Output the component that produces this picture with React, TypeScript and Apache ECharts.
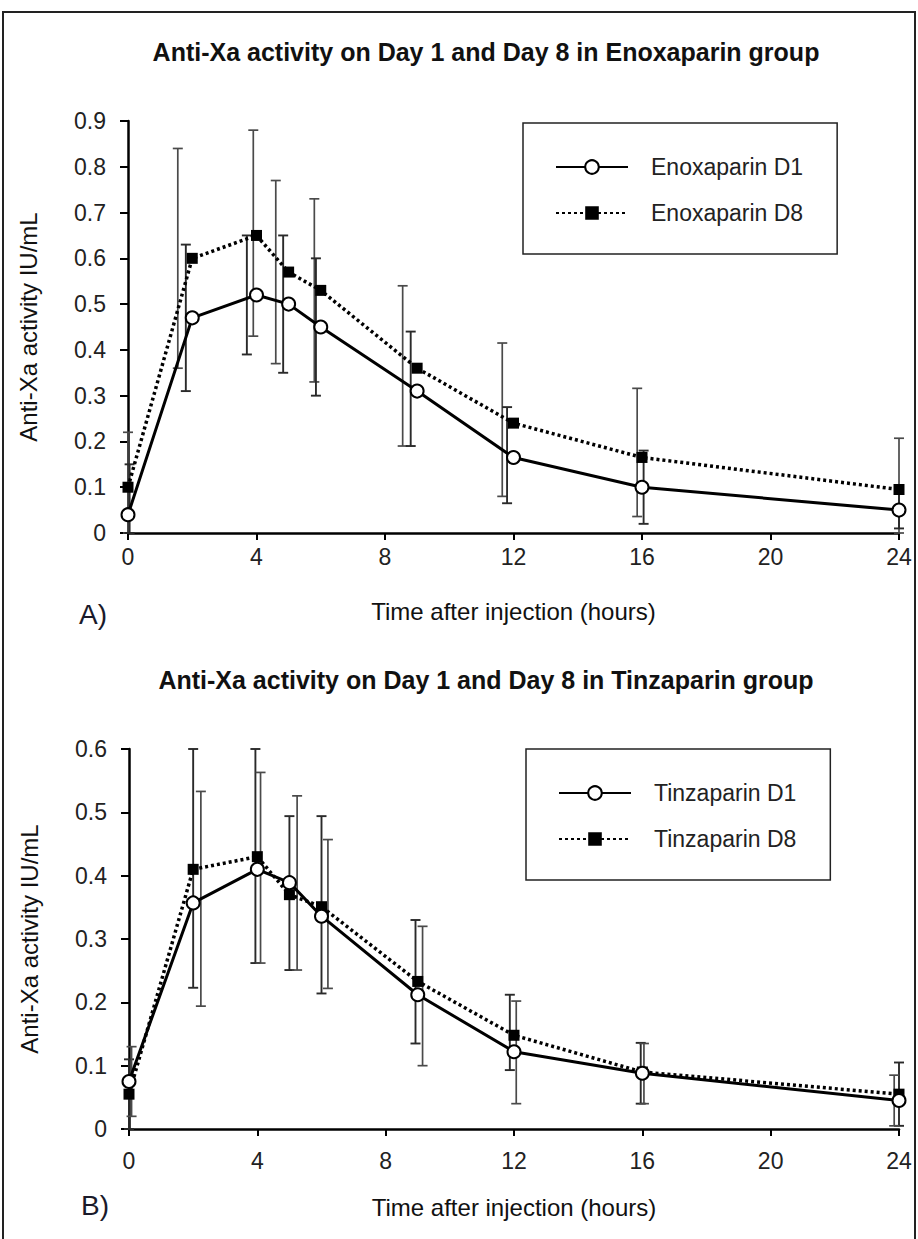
import React, { useEffect, useRef } from "react";
import * as echarts from "echarts";

// ---- Data ----
const hours = [0, 2, 4, 5, 6, 9, 12, 16, 24];
const xTicks = [0, 4, 8, 12, 16, 20, 24];

// Enoxaparin (panel A)
const enoxD1 = [0.04, 0.47, 0.52, 0.5, 0.45, 0.31, 0.165, 0.1, 0.05];
const enoxD8 = [0.1, 0.6, 0.65, 0.57, 0.53, 0.36, 0.24, 0.165, 0.095];
const enoxD1ErrX = [0.05, 1.8, 3.7, 4.83, 5.85, 8.8, 11.8, 16.05, 24];
const enoxD1Low = [0, 0.31, 0.39, 0.35, 0.3, 0.19, 0.065, 0.02, 0.01];
const enoxD1High = [0.15, 0.63, 0.65, 0.65, 0.6, 0.44, 0.275, 0.18, 0.09];
const enoxD8ErrX = [0, 1.55, 3.9, 4.6, 5.8, 8.55, 11.65, 15.85, 24];
const enoxD8Low = [0, 0.36, 0.43, 0.37, 0.33, 0.19, 0.08, 0.036, 0];
const enoxD8High = [0.22, 0.84, 0.88, 0.77, 0.73, 0.54, 0.415, 0.316, 0.207];

// Tinzaparin (panel B)
const tinzD1 = [0.075, 0.357, 0.41, 0.389, 0.336, 0.212, 0.122, 0.088, 0.045];
const tinzD8 = [0.055, 0.41, 0.43, 0.37, 0.351, 0.233, 0.148, 0.09, 0.055];
const tinzD1ErrX = [0.08, 2.24, 4.1, 5.24, 6.2, 9.15, 12.07, 16.05, 23.85];
const tinzD1Low = [0.02, 0.194, 0.262, 0.251, 0.222, 0.1, 0.04, 0.04, 0.005];
const tinzD1High = [0.13, 0.533, 0.563, 0.526, 0.457, 0.32, 0.202, 0.135, 0.085];
const tinzD8ErrX = [0, 2.0, 3.94, 5.0, 6.0, 8.93, 11.87, 15.95, 24];
const tinzD8Low = [0, 0.223, 0.262, 0.251, 0.214, 0.135, 0.093, 0.04, 0.005];
const tinzD8High = [0.11, 0.6, 0.6, 0.494, 0.494, 0.33, 0.212, 0.136, 0.105];

const titleA = "Anti-Xa activity on Day 1 and Day 8 in Enoxaparin group";
const titleB = "Anti-Xa activity on Day 1 and Day 8 in Tinzaparin group";
const xName = "Time after injection (hours)";
const yName = "Anti-Xa activity IU/mL";

const FONT = "'Liberation Sans', Arial, sans-serif";

const pairs = (xs: number[], ys: number[]) => xs.map((x, i) => [x, ys[i]]);
const errData = (xs: number[], lo: number[], hi: number[]) =>
  xs.map((x, i) => [x, lo[i], hi[i]]);

function errSeries(idx: number, data: number[][], color: string, width: number) {
  return {
    type: "custom",
    xAxisIndex: idx,
    yAxisIndex: idx,
    z: 1,
    silent: true,
    data,
    renderItem: (params: any, api: any) => {
      const x = api.value(0);
      const lo = api.coord([x, api.value(1)]);
      const hi = api.coord([x, api.value(2)]);
      const cap = 5;
      const style = { stroke: color, lineWidth: width };
      return {
        type: "group",
        children: [
          { type: "line", shape: { x1: lo[0], y1: lo[1], x2: hi[0], y2: hi[1] }, style },
          { type: "line", shape: { x1: lo[0] - cap, y1: lo[1], x2: lo[0] + cap, y2: lo[1] }, style },
          { type: "line", shape: { x1: hi[0] - cap, y1: hi[1], x2: hi[0] + cap, y2: hi[1] }, style },
        ],
      };
    },
  };
}

function d1Series(idx: number, name: string, ys: number[]) {
  return {
    type: "line",
    name,
    xAxisIndex: idx,
    yAxisIndex: idx,
    z: 3,
    data: pairs(hours, ys),
    symbol: "circle",
    symbolSize: 13,
    lineStyle: { color: "#000", width: 3, type: "solid" },
    itemStyle: { color: "#fff", borderColor: "#000", borderWidth: 2 },
  };
}

function d8Series(idx: number, name: string, ys: number[]) {
  return {
    type: "line",
    name,
    xAxisIndex: idx,
    yAxisIndex: idx,
    z: 2,
    data: pairs(hours, ys),
    symbol: "rect",
    symbolSize: 11,
    lineStyle: { color: "#000", width: 3.5, type: [3, 3] },
    itemStyle: { color: "#000", borderColor: "#000", borderWidth: 0 },
  };
}

function xAxis(idx: number, labelMargin: number) {
  return {
    type: "value",
    gridIndex: idx,
    min: 0,
    max: 24,
    interval: 4,
    name: xName,
    nameLocation: "middle",
    nameGap: 66,
    nameTextStyle: { fontFamily: FONT, fontSize: 24, color: "#111" },
    axisLine: { show: true, onZero: false, lineStyle: { color: "#000", width: 2.5 } },
    axisTick: { show: true, inside: false, length: 7, lineStyle: { color: "#000", width: 2 } },
    axisLabel: {
      fontFamily: FONT,
      fontSize: 23,
      color: "#222",
      margin: labelMargin,
      customValues: xTicks,
    },
    splitLine: { show: false },
  };
}

function yAxis(idx: number, max: number) {
  return {
    type: "value",
    gridIndex: idx,
    min: 0,
    max,
    interval: 0.1,
    name: yName,
    nameLocation: "middle",
    nameGap: 88,
    nameRotate: 90,
    nameTextStyle: { fontFamily: FONT, fontSize: 24, color: "#111" },
    axisLine: { show: true, lineStyle: { color: "#000", width: 2.5 } },
    axisTick: { show: true, inside: false, length: 8, lineStyle: { color: "#000", width: 2 } },
    axisLabel: {
      fontFamily: FONT,
      fontSize: 23,
      color: "#222",
      margin: 22,
      formatter: (v: number) => (v === 0 ? "0" : v.toFixed(1)),
    },
    splitLine: { show: false },
  };
}

function legend(idx: number, left: number, top: number, names: string[]) {
  return {
    data: names,
    left,
    top,
    orient: "vertical",
    padding: [32, 34, 29, 32],
    itemWidth: 72,
    itemHeight: 17,
    itemGap: 22,
    borderColor: "#222",
    borderWidth: 1.5,
    selectedMode: false,
    textStyle: {
      fontFamily: FONT,
      fontSize: 23,
      color: "#222",
      lineHeight: 24,
      padding: [0, 0, 0, 18],
    },
  };
}

export default function App() {
  const ref = useRef<HTMLDivElement>(null);

  useEffect(() => {
    if (!ref.current) return;
    const chart = echarts.init(ref.current, null, { renderer: "svg" });
    const option: any = {
      animation: false,
      backgroundColor: "#fff",
      title: [
        {
          text: titleA,
          left: 481,
          top: 34,
          textAlign: "center",
          textStyle: { fontFamily: FONT, fontSize: 25, fontWeight: "bold", color: "#111" },
        },
        {
          text: titleB,
          left: 481,
          top: 662,
          textAlign: "center",
          textStyle: { fontFamily: FONT, fontSize: 25, fontWeight: "bold", color: "#111" },
        },
      ],
      legend: [
        legend(0, 523, 123, ["Enoxaparin D1", "Enoxaparin D8"]),
        legend(1, 526, 749, ["Tinzaparin D1", "Tinzaparin D8"]),
      ],
      grid: [
        { left: 128, right: 19, top: 121, height: 412 },
        { left: 129, right: 19, top: 749, height: 380 },
      ],
      xAxis: [xAxis(0, 12), xAxis(1, 20)],
      yAxis: [yAxis(0, 0.9), yAxis(1, 0.6)],
      series: [
        errSeries(0, errData(enoxD8ErrX, enoxD8Low, enoxD8High), "#4a4a4a", 1.7),
        errSeries(0, errData(enoxD1ErrX, enoxD1Low, enoxD1High), "#2a2a2a", 1.9),
        d1Series(0, "Enoxaparin D1", enoxD1),
        d8Series(0, "Enoxaparin D8", enoxD8),
        errSeries(1, errData(tinzD8ErrX, tinzD8Low, tinzD8High), "#2a2a2a", 1.9),
        errSeries(1, errData(tinzD1ErrX, tinzD1Low, tinzD1High), "#4a4a4a", 1.7),
        d1Series(1, "Tinzaparin D1", tinzD1),
        d8Series(1, "Tinzaparin D8", tinzD8),
      ],
      graphic: [
        {
          type: "rect",
          silent: true,
          z: 0,
          shape: { x: 3, y: 12, width: 912, height: 1300 },
          style: { fill: "none", stroke: "#222", lineWidth: 2 },
        },
        {
          type: "text",
          left: 79,
          top: 600,
          style: { text: "A)", fontFamily: FONT, fontSize: 28, fill: "#1a1a2a" },
        },
        {
          type: "text",
          left: 81,
          top: 1191,
          style: { text: "B)", fontFamily: FONT, fontSize: 28, fill: "#1a1a2a" },
        },
      ],
    };
    chart.setOption(option);
    return () => chart.dispose();
  }, []);

  return (
    <div
      ref={ref}
      style={{ position: "absolute", left: 0, top: 0, width: 918, height: 1239 }}
    />
  );
}
